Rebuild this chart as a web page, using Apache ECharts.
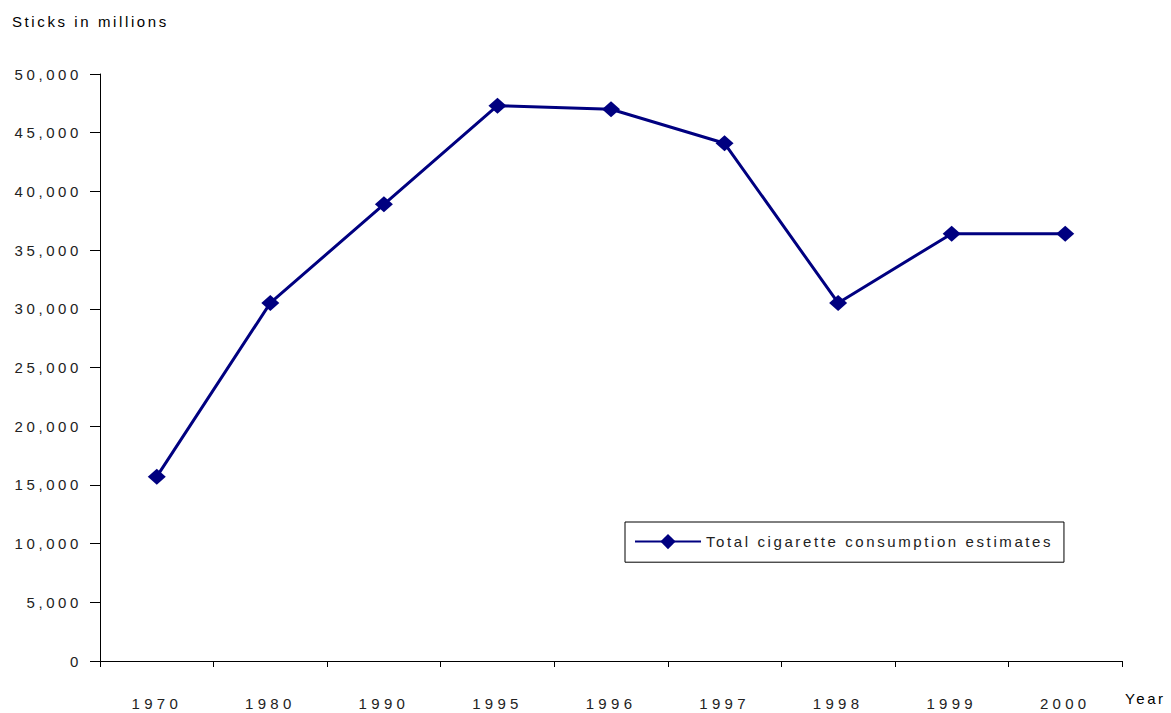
<!DOCTYPE html>
<html>
<head>
<meta charset="utf-8">
<script src="https://cdn.jsdelivr.net/npm/echarts@6/dist/echarts.min.js"></script>
<style>
html,body{margin:0;padding:0;background:#fff;}
#chart{width:1171px;height:713px;}
#chart svg text{letter-spacing:2.6px;}
#chart svg text[text-anchor="end"]{letter-spacing:3.6px;}
#chart svg text[text-anchor="middle"]{letter-spacing:4.3px;}
</style>
</head>
<body>
<div id="chart"></div>
<script>
const years = ['1970','1980','1990','1995','1996','1997','1998','1999','2000'];
const consumption = [15700, 30500, 38900, 47300, 47000, 44100, 30500, 36400, 36400];
const seriesName = 'Total cigarette consumption estimates';
const yTitle = 'Sticks in millions';
const xTitle = 'Year';

const FONT = '"Liberation Sans", Arial, sans-serif';
const chart = echarts.init(document.getElementById('chart'), null, {renderer: 'svg'});
chart.setOption({
  animation: false,
  backgroundColor: '#fff',
  title: {
    text: yTitle, left: 7, top: 9,
    textStyle: {fontFamily: FONT, fontSize: 15, fontWeight: 'normal', color: '#000'}
  },
  grid: {left: 100, right: 49, top: 74, bottom: 52, containLabel: false},
  legend: {
    left: 625, top: 522,
    padding: [12, 107, 13, 9],
    borderColor: '#000', borderWidth: 1,
    itemWidth: 66, itemHeight: 19,
    textStyle: {fontFamily: FONT, fontSize: 15, color: '#222'},
    data: [seriesName]
  },
  xAxis: {
    type: 'category', data: years, boundaryGap: true,
    name: xTitle, nameLocation: 'end', nameGap: 3,
    nameTextStyle: {fontFamily: FONT, fontSize: 15, color: '#000', align: 'left', verticalAlign: 'top', padding: [30, 0, 0, 0]},
    axisLine: {lineStyle: {color: '#000', width: 1}},
    axisTick: {show: true, length: 6, inside: false, alignWithLabel: false, lineStyle: {color: '#000'}},
    axisLabel: {margin: 35, fontFamily: FONT, fontSize: 15, color: '#222', interval: 0},
    splitLine: {show: false}
  },
  yAxis: {
    type: 'value', min: 0, max: 50000, interval: 5000,
    axisLine: {show: true, lineStyle: {color: '#000', width: 1}},
    axisTick: {show: true, length: 10, inside: false, lineStyle: {color: '#000'}},
    axisLabel: {
      margin: 18, fontFamily: FONT, fontSize: 15, color: '#222',
      formatter: v => v.toLocaleString('en-US')
    },
    splitLine: {show: false}
  },
  series: [{
    name: seriesName, type: 'line', data: consumption,
    symbol: 'diamond', symbolSize: [18, 16],
    lineStyle: {color: '#000080', width: 3},
    itemStyle: {color: '#000080'}
  }]
});
</script>
</body>
</html>
